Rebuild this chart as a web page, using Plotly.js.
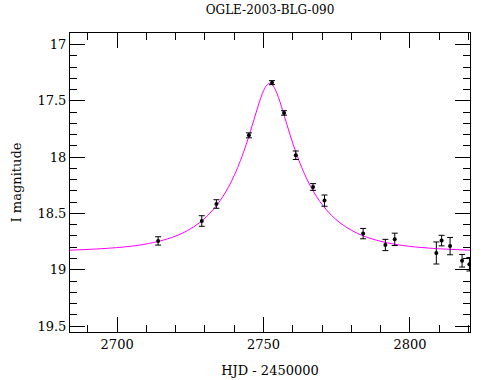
<!DOCTYPE html>
<html>
<head>
<meta charset="utf-8">
<script src="https://cdn.plot.ly/plotly-3.0.1.min.js"></script>
<style>html,body{margin:0;padding:0;background:#fff;}#chart{width:490px;height:380px;}</style>
</head>
<body>
<div id="chart"></div>
<script>
// Observed photometry (HJD - 2450000, I magnitude, error)
const obsHJD = [2714.0, 2728.9, 2733.9, 2745.0, 2752.9, 2757.0, 2761.0, 2766.9, 2770.8, 2784.0, 2791.6, 2794.8, 2809.0, 2810.8, 2813.7, 2817.8, 2820.3];
const obsMag = [18.744, 18.567, 18.416, 17.806, 17.338, 17.607, 17.983, 18.265, 18.386, 18.679, 18.780, 18.730, 18.851, 18.741, 18.790, 18.920, 18.951];
const obsErr = [0.037, 0.047, 0.038, 0.022, 0.018, 0.020, 0.038, 0.030, 0.050, 0.046, 0.050, 0.055, 0.098, 0.047, 0.077, 0.056, 0.060];

// Model light curve
const modelHJD = [2683.9, 2697.1, 2707.1, 2714.1, 2720.1, 2724.1, 2728.1, 2731.1, 2734.1, 2736.1, 2738.1, 2740.1, 2742.1, 2743.1, 2744.1, 2745.1, 2746.1, 2747.1, 2748.1, 2749.1, 2750.1, 2751.1,
  2752.1,
  2753.1, 2754.1, 2755.1, 2756.1, 2757.1, 2758.1, 2759.1, 2760.1, 2761.1, 2762.1, 2764.1, 2766.1, 2768.1, 2770.1, 2773.1, 2776.1, 2780.1, 2784.1, 2790.1, 2797.1, 2807.1, 2820.5];
const modelMag = [18.826, 18.809, 18.783, 18.748, 18.700, 18.651, 18.583, 18.514, 18.424, 18.350, 18.262, 18.156, 18.031, 17.961, 17.886, 17.805, 17.721, 17.635, 17.549, 17.470, 17.405, 17.360,
  17.345,
  17.360, 17.405, 17.470, 17.549, 17.635, 17.721, 17.805, 17.886, 17.961, 18.031, 18.156, 18.262, 18.350, 18.424, 18.514, 18.583, 18.651, 18.700, 18.748, 18.783, 18.809, 18.826];

const titleText = "OGLE-2003-BLG-090";
const xTitle = "HJD - 2450000";
const yTitle = "I magnitude";

const font = "DejaVu Serif";

const traces = [
  {
    x: modelHJD, y: modelMag, type: "scatter", mode: "lines",
    line: {color: "#ff00ff", width: 1, shape: "spline", smoothing: 1},
    hoverinfo: "skip"
  },
  {
    x: obsHJD, y: obsMag, type: "scatter", mode: "markers",
    marker: {color: "#000", size: 4, symbol: "circle"},
    error_y: {type: "data", array: obsErr, visible: true, color: "#000", thickness: 1, width: 3},
    cliponaxis: true
  }
];

const axisCommon = {
  showgrid: false, zeroline: false, showline: true, linecolor: "#000", linewidth: 1,
  mirror: "allticks", ticks: "inside", ticklen: 15, tickwidth: 1, tickcolor: "#000",
  tickfont: {family: font, size: 13, color: "#000"},
};

const layout = {
  width: 490, height: 380,
  margin: {l: 70, r: 20, t: 33, b: 48},
  paper_bgcolor: "#fff", plot_bgcolor: "#fff",
  showlegend: false,
  font: {family: font, color: "#000"},
  title: {text: titleText, font: {family: font, size: 12, color: "#000"}, x: 0.5, xref: "paper", y: 0.973, yref: "container", yanchor: "middle"},
  xaxis: Object.assign({}, axisCommon, {
    range: [2683.9, 2820.5], dtick: 50, tick0: 2700,
    minor: {dtick: 10, tick0: 2700, ticks: "inside", ticklen: 7, tickwidth: 1, tickcolor: "#000", showgrid: false},
    title: {text: xTitle, font: {family: font, size: 13, color: "#000"}, standoff: 15}
  }),
  yaxis: Object.assign({}, axisCommon, {
    range: [19.553, 16.897], dtick: 0.5, tick0: 17,
    minor: {dtick: 0.1, tick0: 17, ticks: "inside", ticklen: 7, tickwidth: 1, tickcolor: "#000", showgrid: false},
    title: {text: yTitle, font: {family: font, size: 13, color: "#000"}, standoff: 12}
  })
};

Plotly.newPlot("chart", traces, layout, {displayModeBar: false, staticPlot: true});
</script>
</body>
</html>
